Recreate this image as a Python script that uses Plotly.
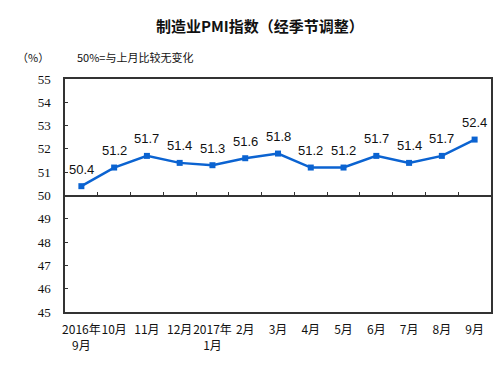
import plotly.graph_objects as go

months = ["2016年<br>9月", "10月", "11月", "12月", "2017年<br>1月", "2月", "3月",
          "4月", "5月", "6月", "7月", "8月", "9月"]
pmi = [50.4, 51.2, 51.7, 51.4, 51.3, 51.6, 51.8, 51.2, 51.2, 51.7, 51.4, 51.7, 52.4]
y_ticks = [45, 46, 47, 48, 49, 50, 51, 52, 53, 54, 55]

idx = list(range(len(months)))
labels = [f"{v:.1f}" for v in pmi]

fig = go.Figure()
fig.add_trace(go.Scatter(
    x=idx, y=pmi, mode="lines+markers",
    line=dict(color="#0b63d1", width=2.5),
    marker=dict(symbol="square", size=6, color="#0b63d1"),
    cliponaxis=False, showlegend=False,
))
# invisible trace for the 50 baseline axis
fig.add_trace(go.Scatter(x=[idx[0]], y=[50], xaxis="x2", mode="markers",
                         marker=dict(opacity=0), showlegend=False, hoverinfo="skip"))

for xi, yi, lab in zip(idx, pmi, labels):
    fig.add_annotation(x=xi, y=yi, text=lab, showarrow=False, yshift=17,
                       xanchor="center", yanchor="middle",
                       font=dict(family="Liberation Sans, Arial", size=13, color="#111"))

n = len(months)
fig.update_layout(
    width=498, height=367,
    margin=dict(l=65, r=7, t=79, b=55, autoexpand=False),
    paper_bgcolor="white", plot_bgcolor="white",
    title=dict(text="制造业PMI指数（经季节调整）", x=0.522, xanchor="center",
               y=0.928, yanchor="middle",
               font=dict(family="Noto Sans CJK SC", size=15, color="#111", weight=600)),
    xaxis=dict(range=[-0.5, n - 0.5], tickmode="array", tickvals=idx, ticktext=months,
               tickangle=0, automargin=False,
               showline=True, linecolor="#333", linewidth=1.5, mirror=True,
               ticks="", showgrid=False, zeroline=False,
               tickfont=dict(family="Noto Sans CJK SC", size=12, color="#111"),
               ticklabelstandoff=6),
    xaxis2=dict(overlaying="x", anchor="free", position=0.5, range=[-0.5, n - 0.5],
                tickmode="array", tickvals=[i + 0.5 for i in idx[:-1]],
                showticklabels=False, ticks="inside", ticklen=3, tickcolor="#333",
                showline=True, linecolor="#333", linewidth=1.5, showgrid=False,
                zeroline=False, side="bottom", automargin=False),
    yaxis=dict(range=[45, 55], tickmode="array", tickvals=y_ticks, automargin=False,
               showline=True, linecolor="#333", linewidth=1.5, mirror=True,
               ticks="inside", ticklen=3, tickcolor="#333", showgrid=False,
               zeroline=False,
               tickfont=dict(family="Liberation Serif, Times New Roman", size=13, color="#111"),
               ticklabelstandoff=10),
)
fig.add_annotation(text="（%）", xref="paper", yref="paper", x=-0.075, y=1.095,
                   xanchor="center", yanchor="middle", showarrow=False,
                   font=dict(family="Noto Sans CJK SC", size=11, color="#111"))
fig.add_annotation(text="50%=与上月比较无变化", xref="paper", yref="paper", x=0.023, y=1.095,
                   xanchor="left", yanchor="middle", showarrow=False,
                   font=dict(family="Noto Sans CJK SC", size=11, color="#111"))
fig.write_html("out.html", config={"displayModeBar": False},
               post_script="document.body.style.margin='0';")
